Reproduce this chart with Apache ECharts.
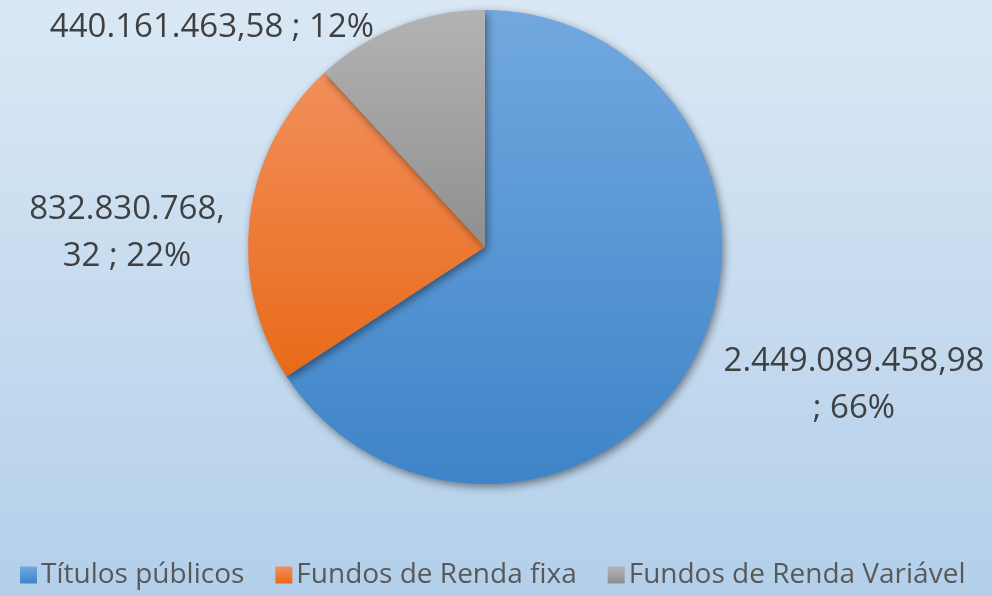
<!DOCTYPE html>
<html><head><meta charset="utf-8">
<style>html,body{margin:0;padding:0;}#c{width:992px;height:596px;}</style>
<script src="https://cdn.jsdelivr.net/npm/echarts@6/dist/echarts.min.js"></script>
</head><body><div id="c"></div>
<script>
const categories = ['Títulos públicos', 'Fundos de Renda fixa', 'Fundos de Renda Variável'];
const values = [2449089458.98, 832830768.32, 440161463.58];
const labelTexts = ['2.449.089.458,98\n; 66%', '832.830.768,\n32 ; 22%', '440.161.463,58 ; 12%'];
const percents = ['66%', '22%', '12%'];

const colorsTop = ['#72a8df', '#f28f5c', '#b3b3b3'];
const colorsBottom = ['#3e84c8', '#e86a18', '#8f8f8f'];
const labelPos = [[854, 385], [127, 233], [212, 28]];

const chart = echarts.init(document.getElementById('c'));
const grad = (i) => new echarts.graphic.LinearGradient(0, 0, 0, 1, [
  {offset: 0, color: colorsTop[i]}, {offset: 1, color: colorsBottom[i]}]);

chart.setOption({
  backgroundColor: new echarts.graphic.LinearGradient(0, 0, 0, 1, [
    {offset: 0, color: '#dae8f5'}, {offset: 1, color: '#b3cfea'}]),
  color: colorsBottom,
  legend: {
    bottom: 2, left: 15,
    itemWidth: 17, itemHeight: 17, itemGap: 31,
    icon: 'rect',
    textStyle: {fontFamily: 'Open Sans', fontSize: 28, color: '#595959', padding: [0, 0, 0, -1]},
    data: categories.map((n, i) => ({name: n, itemStyle: {color: grad(i)}}))
  },
  series: [{
    type: 'pie',
    center: [485, 247], radius: [0, 237],
    startAngle: 90, clockwise: true,
    animation: false,
    itemStyle: {shadowBlur: 8, shadowColor: 'rgba(0,0,0,0.45)', shadowOffsetX: 2, shadowOffsetY: 3},
    label: {
      show: true, position: 'outside',
      fontFamily: 'Open Sans', fontSize: 33, color: '#404040',
      lineHeight: 47, align: 'center', overflow: 'none',
      edgeDistance: 0, bleedMargin: 0,
      formatter: (p) => labelTexts[p.dataIndex]
    },
    labelLine: {show: false},
    labelLayout: (p) => ({x: labelPos[p.dataIndex][0], y: labelPos[p.dataIndex][1], align: 'center', verticalAlign: 'middle'}),
    data: categories.map((n, i) => ({name: n, value: values[i], itemStyle: {color: grad(i)}}))
  }]
});
</script></body></html>
